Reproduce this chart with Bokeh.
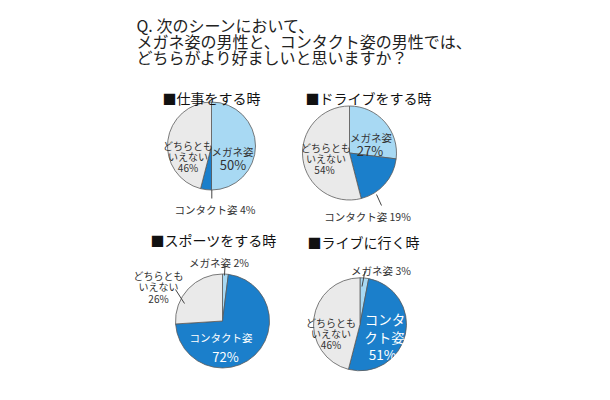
import numpy as np
from bokeh.plotting import figure
from bokeh.models import Range1d, ColumnDataSource
from bokeh.core.properties import value
from bokeh.embed import file_html
from bokeh.resources import INLINE

# ---- data ----
title_lines = ["Q. 次のシーンにおいて、",
               "メガネ姿の男性と、コンタクト姿の男性では、",
               "どちらがより好ましいと思いますか？"]
scenes = ["仕事をする時", "ドライブをする時", "スポーツをする時", "ライブに行く時"]
categories = ["メガネ姿", "コンタクト姿", "どちらともいえない"]
megane = [50, 27, 2, 3]
contact = [4, 19, 72, 51]
neither = [46, 54, 26, 46]

colors = ["#a8d9f3", "#1b7fcb", "#eaeaea"]
FONT = value("Noto Sans CJK JP")
TXT = "#333333"

W, H = 594, 384
p = figure(width=W, height=H, output_backend="svg", toolbar_location=None,
           x_range=Range1d(8, 8 + W), y_range=Range1d(400 - 8 - H, 400 - 8),
           min_border=0)
p.axis.visible = False
p.grid.visible = False
p.outline_line_color = None
p.background_fill_color = "white"

def Y(py):
    return 400 - py

def put(x, yc, t, size, color, align):
    # yc = visual centre of the glyphs in page pixels; use alphabetic baseline
    p.text(x=[x], y=[Y(yc + 0.38 * size)], text=[t], text_font=FONT,
           text_font_size=f"{size}px", text_color=color,
           text_baseline="alphabetic", text_align=align)

# title
for i, line in enumerate(title_lines):
    put(144, 26 + i * 16.2, line, 16, "#222222", "left")

# pie layout: centre (px), radius (px), subtitle pos
layout = [
    dict(cx=219, cy=153.5, r=44, tx=170, ty=100),
    dict(cx=357, cy=160.5, r=47, tx=313, ty=100),
    dict(cx=230, cy=328.5, r=47, tx=158, ty=242),
    dict(cx=367.5, cy=331.8, r=46.5, tx=315, ty=244),
]

for i, lay in enumerate(layout):
    vals = [megane[i], contact[i], neither[i]]
    tot = float(sum(vals))
    cum = np.cumsum([0] + vals) / tot
    starts = np.pi / 2 - 2 * np.pi * cum[:-1]
    ends = np.pi / 2 - 2 * np.pi * cum[1:]
    src = ColumnDataSource(dict(x=[lay["cx"]] * 3, y=[Y(lay["cy"])] * 3,
                                s=list(starts), e=list(ends), c=colors))
    p.wedge(x="x", y="y", radius=lay["r"], radius_units="screen",
            start_angle="s", end_angle="e", direction="clock",
            fill_color="c", line_color="#5a5a5a", line_width=0.8, source=src)
    put(lay["tx"], lay["ty"], "■" + scenes[i], 14, "#111111", "left")

def lab(x, y, t, size=10, color=TXT):
    put(x, y, t, size, color, "center")

def leader(x0, y0, x1, y1):
    p.segment(x0=[x0], y0=[Y(y0)], x1=[x1], y1=[Y(y1)],
              line_color="#444444", line_width=1)

neither_lines = ["どちらとも", "いえない"]

# pie 1
lab(240, 155, categories[0], 10.5)
lab(240.5, 167.5, f"{megane[0]}%", 13)
lab(195.5, 149.5, neither_lines[0])
lab(195.5, 160.5, neither_lines[1])
lab(195.5, 171.5, f"{neither[0]}%")
leader(219.3, 197.5, 219.3, 206)
lab(222.5, 213.5, f"{categories[1]} {contact[0]}%", 10.5)

# pie 2
lab(378.5, 141.5, categories[0], 10.5)
lab(377.5, 153.5, f"{megane[1]}%", 13)
lab(333.5, 151.5, neither_lines[0])
lab(333.5, 162.5, neither_lines[1])
lab(332, 173.5, f"{neither[1]}%")
leader(384, 202, 389, 213)
lab(375, 220, f"{categories[1]} {contact[1]}%", 10.5)

# pie 3
lab(226.5, 266.5, f"{categories[0]} {megane[2]}%", 10.5)
leader(232.5, 272, 232, 283)
lab(166, 279, neither_lines[0])
lab(166, 290.5, neither_lines[1])
lab(166, 302, f"{neither[2]}%")
leader(183, 297, 192, 311)
lab(228.5, 341.5, categories[1], 10.5, "white")
lab(233, 359.5, f"{contact[2]}%", 13, "white")

# pie 4
lab(388.5, 274.5, f"{categories[0]} {megane[3]}%", 10.5)
leader(372.5, 278.5, 369.5, 294)
lab(392.5, 321.5, categories[1][:3], 13.5, "white")
lab(392, 339.5, categories[1][3:], 13.5, "white")
lab(390, 356.5, f"{contact[3]}%", 13.5, "white")
lab(338.5, 326, neither_lines[0])
lab(338.5, 337, neither_lines[1])
lab(338.5, 348, f"{neither[3]}%")

open("out.html", "w").write(file_html(p, INLINE))
